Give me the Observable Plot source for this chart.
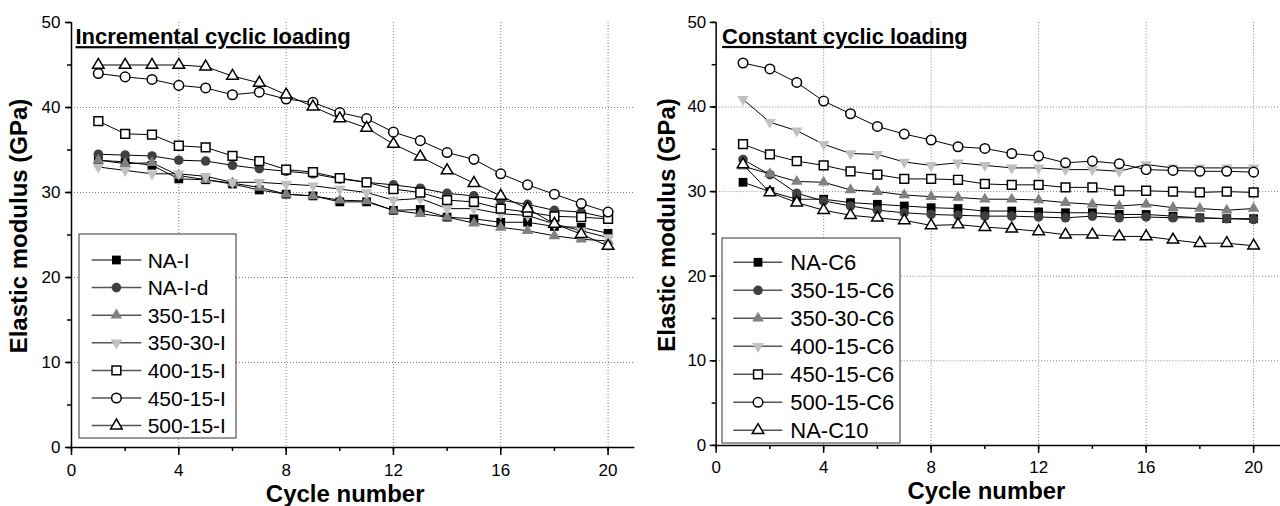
<!DOCTYPE html>
<html><head><meta charset="utf-8">
<script src="https://cdn.jsdelivr.net/npm/d3@7"></script>
<script src="https://cdn.jsdelivr.net/npm/@observablehq/plot@0.6"></script>
<style>
html,body{margin:0;padding:0;background:#fff;overflow:hidden;}
#wrap{position:relative;width:1280px;height:506px;overflow:hidden;font-family:"Liberation Sans",Arial,Helvetica,sans-serif;}
.panel{position:absolute;top:0;}
.legend{position:absolute;}
</style></head><body><div id="wrap"></div>
<script>
// ---------- data ----------
const cycles = [1,2,3,4,5,6,7,8,9,10,11,12,13,14,15,16,17,18,19,20];
const xMajor = [0,4,8,12,16,20];
const xMinor = [0,2,4,6,8,10,12,14,16,18,20];
const yMajor = [0,10,20,30,40,50];
const yMinor = [0,5,10,15,20,25,30,35,40,45,50];
const xGrid = [4,8,12,16,20];
const yGrid = [10,20,30,40];

const leftTitle = "Incremental cyclic loading";
const rightTitle = "Constant cyclic loading";
const yTitle = "Elastic modulus (GPa)";
const xTitle = "Cycle number";

const leftNames = ["NA-I","NA-I-d","350-15-I","350-30-I","400-15-I","450-15-I","500-15-I"];
const NA_I      = [33.8,33.6,33.2,31.6,31.5,31.0,30.3,29.8,29.6,28.9,28.9,27.9,28.0,27.1,26.9,26.5,26.5,26.0,25.9,25.2];
const NA_I_d    = [34.5,34.4,34.3,33.8,33.7,33.2,32.8,32.5,32.2,31.6,31.2,30.9,30.5,29.9,29.6,29.1,28.6,27.9,27.7,27.0];
const I_350_15  = [33.8,33.4,33.5,32.0,31.5,31.1,30.6,29.8,29.6,29.1,29.0,27.9,27.5,27.1,26.4,25.9,25.5,24.9,24.5,24.3];
const I_350_30  = [33.0,32.6,32.2,32.2,31.9,31.2,31.2,31.0,30.8,30.4,30.0,29.1,29.3,28.1,28.1,27.5,27.3,26.3,25.5,24.7];
const I_400_15  = [38.4,36.9,36.8,35.5,35.3,34.3,33.7,32.7,32.4,31.7,31.2,30.4,30.0,29.1,28.9,28.1,27.7,27.2,27.1,26.9];
const I_450_15  = [44.0,43.6,43.3,42.6,42.3,41.5,41.8,41.0,40.6,39.4,38.7,37.1,36.1,34.7,33.9,32.2,30.9,29.8,28.7,27.7];
const I_500_15  = [45.0,45.0,45.0,45.0,44.8,43.7,42.9,41.5,40.1,38.7,37.6,35.7,34.2,32.6,31.1,29.6,28.1,26.3,25.1,23.7];

const rightNames = ["NA-C6","350-15-C6","350-30-C6","400-15-C6","450-15-C6","500-15-C6","NA-C10"];
const NA_C6     = [31.1,30.0,29.1,29.1,28.7,28.5,28.3,28.1,28.0,27.7,27.7,27.6,27.5,27.5,27.3,27.3,27.1,26.9,26.8,26.8];
const C6_350_15 = [33.8,32.0,29.8,28.9,28.3,27.8,27.5,27.3,27.2,27.1,27.1,27.0,26.9,27.1,26.9,27.0,26.9,26.9,26.8,26.7];
const C6_350_30 = [33.0,32.1,31.2,31.1,30.2,30.0,29.6,29.4,29.3,29.1,29.1,29.0,28.7,28.5,28.3,28.5,28.1,28.0,27.8,28.0];
const C6_400_15 = [40.9,38.2,37.2,35.6,34.5,34.4,33.5,33.1,33.4,33.1,32.8,32.8,32.6,32.6,32.4,33.2,32.8,32.8,32.8,32.8];
const C6_450_15 = [35.6,34.4,33.6,33.1,32.4,32.0,31.5,31.5,31.4,30.9,30.8,30.8,30.5,30.5,30.1,30.1,30.0,29.9,30.0,29.9];
const C6_500_15 = [45.2,44.5,42.9,40.7,39.2,37.7,36.8,36.1,35.3,35.1,34.5,34.2,33.4,33.6,33.3,32.6,32.5,32.4,32.4,32.3];
const NA_C10    = [33.2,29.9,28.7,27.8,27.2,26.9,26.6,26.0,26.1,25.8,25.6,25.3,24.9,24.9,24.7,24.7,24.3,23.9,23.9,23.6];

// ---------- styles ----------
const SYM = {
  square: {draw(ctx){ const s=4.4; ctx.moveTo(-s,-s); ctx.lineTo(s,-s); ctx.lineTo(s,s); ctx.lineTo(-s,s); ctx.closePath(); }},
  circle: {draw(ctx){ const r=4.8; ctx.moveTo(r,0); ctx.arc(0,0,r,0,2*Math.PI); ctx.closePath(); }},
  up:     {draw(ctx){ const w=5.8,h=9.9; ctx.moveTo(0,-h*2/3); ctx.lineTo(w,h/3); ctx.lineTo(-w,h/3); ctx.closePath(); }},
  down:   {draw(ctx){ const w=5.8,h=9.9; ctx.moveTo(0,h*2/3); ctx.lineTo(w,-h/3); ctx.lineTo(-w,-h/3); ctx.closePath(); }}
};
const shapes = ["square","circle","up","down","square","circle","up"];
const fills  = ["#000000","#404040","#808080","#c0c0c0","#ffffff","#ffffff","#ffffff"];
const strokes= ["none","none","none","none","#000000","#000000","#000000"];

const leftSeries = [NA_I,NA_I_d,I_350_15,I_350_30,I_400_15,I_450_15,I_500_15]
  .map((v,i)=>({name:leftNames[i], values:v, shape:shapes[i], fill:fills[i], stroke:strokes[i]}));
const rightSeries = [NA_C6,C6_350_15,C6_350_30,C6_400_15,C6_450_15,C6_500_15,NA_C10]
  .map((v,i)=>({name:rightNames[i], values:v, shape:shapes[i], fill:fills[i], stroke:strokes[i]}));

const FONT = '"Liberation Sans", Arial, Helvetica, sans-serif';
const wrap = document.getElementById("wrap");

function makePanel(cfg) {
  const marks = [
    Plot.gridX(xGrid, {stroke:"#808080", strokeOpacity:1, strokeDasharray:"1,2"}),
    Plot.gridY(yGrid, {stroke:"#808080", strokeOpacity:1, strokeDasharray:"1,2"}),
    Plot.axisX(xMinor, {tickSize:4, tickFormat:()=>"", strokeWidth:1.5, label:null}),
    Plot.axisX(xMajor, {tickSize:8, tickPadding:8, fontSize:17, strokeWidth:1.5, label:null}),
    Plot.axisY(yMinor, {tickSize:4, tickFormat:()=>"", strokeWidth:1.5, label:null}),
    Plot.axisY(yMajor, {tickSize:6, tickPadding:cfg.tickPad, fontSize:17, strokeWidth:1.5, label:null}),
    Plot.ruleY([0], {strokeWidth:1.5}),
    Plot.ruleX([0], {strokeWidth:1.5})
  ];
  cfg.series.forEach(s => {
    const d = s.values.map((v,i)=>({x:cycles[i], y:v}));
    marks.push(Plot.line(d, {x:"x", y:"y", stroke:"black", strokeWidth:1}));
    marks.push(Plot.dot(d, {x:"x", y:"y", symbol:SYM[s.shape], r:5, fill:s.fill, stroke:s.stroke, strokeWidth:1.5}));
  });
  marks.push(Plot.text([cfg.title], {frameAnchor:"top-left", textAnchor:"start", lineAnchor:"top", dx:cfg.titleDx, dy:6, fontSize:22, fontWeight:"bold"}));
  marks.push(Plot.text([yTitle], {frameAnchor:"left", textAnchor:"middle", lineAnchor:"middle", rotate:-90, dx:cfg.ylabDx, dy:-9, fontSize:24, fontWeight:"bold"}));
  marks.push(Plot.text([xTitle], {frameAnchor:"bottom", textAnchor:"middle", lineAnchor:"bottom", dx:cfg.xlabDx, dy:54, fontSize:24, fontWeight:"bold"}));

  const svg = Plot.plot({
    width: cfg.width, height: 506,
    marginLeft: cfg.marginLeft, marginRight: cfg.marginRight, marginTop: 22, marginBottom: 59,
    x: {domain:[0,21]}, y: {domain:[0,50]},
    style: {fontFamily: FONT, color: "black", background: "transparent", overflow: "visible"},
    marks
  });
  d3.select(svg).selectAll("text").filter(function(){ return this.textContent === cfg.title; })
    .attr("text-decoration", "underline");
  const div = document.createElement("div");
  div.className = "panel";
  div.style.left = cfg.left + "px";
  div.appendChild(svg);
  wrap.appendChild(div);
}

function makeLegend(cfg) {
  const svg = d3.create("svg").attr("class","legend")
    .attr("width", cfg.w+2).attr("height", cfg.h+2)
    .style("left", (cfg.left-1)+"px").style("top", (cfg.top-1)+"px");
  svg.append("rect").attr("x",1).attr("y",1).attr("width",cfg.w).attr("height",cfg.h)
    .attr("fill","#fff").attr("stroke","#333").attr("stroke-width",1);
  cfg.series.forEach((s,i) => {
    const cy = 1 + cfg.first + i*cfg.step;
    const g = svg.append("g");
    g.append("line").attr("x1",1+cfg.l1).attr("x2",1+cfg.l2).attr("y1",cy).attr("y2",cy)
      .attr("stroke","#555").attr("stroke-width",1.5);
    const p = d3.path(); SYM[s.shape].draw(p);
    g.append("path").attr("d", p.toString()).attr("transform",`translate(${1+cfg.mx},${cy})`)
      .attr("fill", s.fill).attr("stroke", s.stroke).attr("stroke-width",1.5);
    g.append("text").attr("x",1+cfg.tx).attr("y",cy+cfg.fs*0.36)
      .attr("font-family",FONT).attr("font-size",cfg.fs).attr("fill","#000").text(s.name);
  });
  wrap.appendChild(svg.node());
}

makePanel({series:leftSeries, title:leftTitle, left:0, width:640, marginLeft:71, marginRight:5.6,
  tickPad:5, titleDx:4, ylabDx:-52, xlabDx:-8});
makePanel({series:rightSeries, title:rightTitle, left:640, width:643, marginLeft:76, marginRight:0,
  tickPad:4, titleDx:6, ylabDx:-49, xlabDx:-12});

makeLegend({series:leftSeries, left:79.3, top:234.3, w:157, h:204, first:26, step:27.6,
  l1:12.7, l2:62.4, mx:37.4, tx:68.7, fs:21});
makeLegend({series:rightSeries, left:721.7, top:237.7, w:178, h:205, first:24.3, step:28,
  l1:11.3, l2:60.3, mx:36, tx:68.3, fs:22});
</script>
</body></html>
